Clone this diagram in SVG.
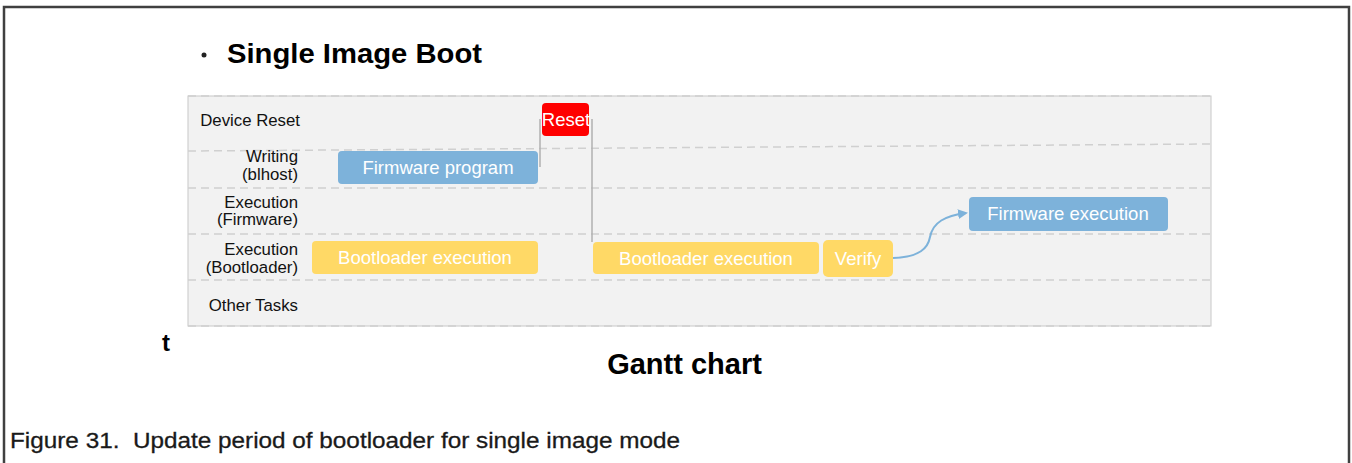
<svg xmlns="http://www.w3.org/2000/svg" width="1352" height="463" viewBox="0 0 1352 463">
<style>
.lbl{font-family:"Liberation Sans",Arial,sans-serif;font-size:16.8px;fill:#111;text-anchor:end}
.bt{font-family:"Liberation Sans",Arial,sans-serif;font-size:18.5px;fill:#fff;text-anchor:middle}
.sep{stroke:#d0d0d0;stroke-width:1.5;stroke-dasharray:8,5;fill:none}
.blue{fill:#7db2da}
.yel{fill:#ffd966}
.bold{font-family:"Liberation Sans",Arial,sans-serif;font-weight:bold;fill:#000}
</style>
<defs>
<marker id="ah" markerWidth="10" markerHeight="10" refX="8" refY="5" orient="auto" markerUnits="userSpaceOnUse"><path d="M0,0 L10,5 L0,10 Z" fill="#7db2da"/></marker>
</defs>
<rect width="1352" height="463" fill="#fff"/>
<path d="M4,463 V7 H1349 V463" fill="none" stroke="#404040" stroke-width="2.5"/>
<g id="title">
<circle cx="204" cy="55" r="2.5" fill="#222"/>
<text class="bold" x="227" y="63" font-size="28" textLength="255" lengthAdjust="spacingAndGlyphs">Single Image Boot</text>
</g>
<g id="chart">
<rect x="188" y="96" width="1023" height="230" fill="#f2f2f2" stroke="#c8c8c8" stroke-width="1"/>
<line class="sep" x1="188" y1="96" x2="1211" y2="96"/>
<line class="sep" x1="188" y1="151" x2="1211" y2="144"/>
<line class="sep" x1="188" y1="188" x2="1211" y2="188"/>
<line class="sep" x1="188" y1="234" x2="1211" y2="234"/>
<line class="sep" x1="188" y1="280" x2="1211" y2="280"/>
<line class="sep" x1="188" y1="326" x2="1211" y2="326"/>
<text class="lbl" x="300" y="126">Device Reset</text>
<text class="lbl" x="298" y="162">Writing</text>
<text class="lbl" x="298" y="180">(blhost)</text>
<text class="lbl" x="298" y="208">Execution</text>
<text class="lbl" x="298" y="225">(Firmware)</text>
<text class="lbl" x="298" y="255">Execution</text>
<text class="lbl" x="298" y="273">(Bootloader)</text>
<text class="lbl" x="298" y="311">Other Tasks</text>
</g>
<g id="connectors">
<line x1="540" y1="119" x2="540" y2="167" stroke="#b0b0b0" stroke-width="1.5"/>
<line x1="592" y1="119" x2="592" y2="242" stroke="#b0b0b0" stroke-width="1.5"/>
<path d="M893,258 C920,257 928,248 930,237 C933,222 945,216 966,213" fill="none" stroke="#7db2da" stroke-width="2" marker-end="url(#ah)"/>
</g>
<g id="firmware-program"><rect class="blue" x="338" y="151" width="200" height="33" rx="4"/><text class="bt" x="438" y="174">Firmware program</text></g>
<g id="reset"><rect x="542" y="103" width="47" height="33" rx="4" fill="#ff0000"/><text class="bt" x="566" y="126">Reset</text></g>
<g id="boot1"><rect class="yel" x="312" y="241" width="226" height="33" rx="4"/><text class="bt" x="425" y="264">Bootloader execution</text></g>
<g id="boot2"><rect class="yel" x="593" y="242" width="226" height="32" rx="4"/><text class="bt" x="706" y="265">Bootloader execution</text></g>
<g id="verify"><rect class="yel" x="823" y="240" width="70" height="37" rx="5"/><text class="bt" x="858" y="265">Verify</text></g>
<g id="firmware-exec"><rect class="blue" x="969" y="197" width="199" height="34" rx="4"/><text class="bt" x="1068" y="220">Firmware execution</text></g>
<g id="axis"><text class="bold" x="162" y="351" font-size="24">t</text></g>
<g id="gantt"><text class="bold" x="684.5" y="374" font-size="29" text-anchor="middle">Gantt chart</text></g>
<g id="caption"><text x="10" y="448" font-family="'Liberation Sans',Arial,sans-serif" font-size="22" fill="#1a1a1a" stroke="#1a1a1a" stroke-width="0.3" xml:space="preserve" textLength="670" lengthAdjust="spacingAndGlyphs">Figure 31.  Update period of bootloader for single image mode</text></g>
</svg>
